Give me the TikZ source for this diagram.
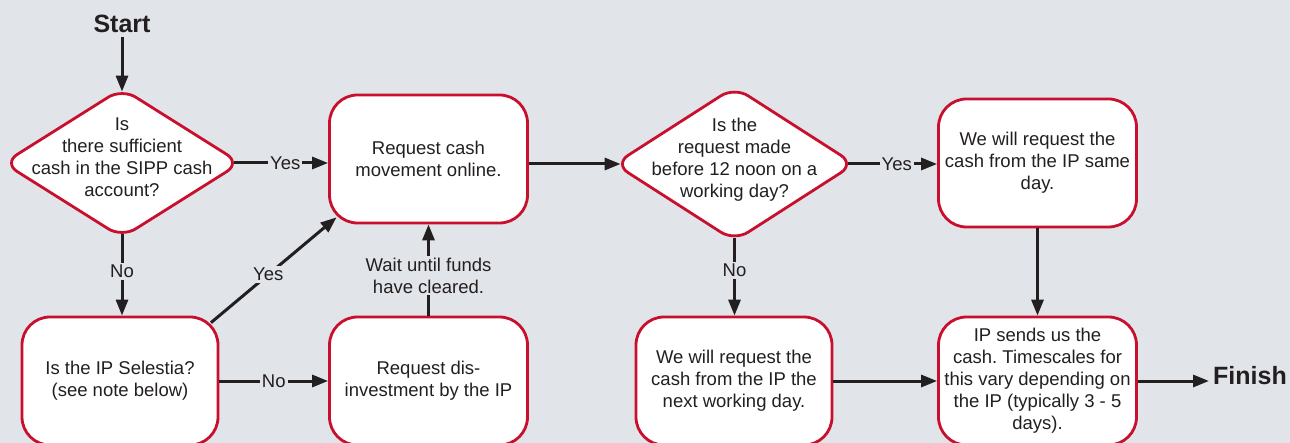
\documentclass[tikz,border=0pt]{standalone}
\usepackage{fontspec}
\setmainfont{Liberation Sans}
\usetikzlibrary{shapes.geometric,arrows.meta}
\definecolor{bg}{RGB}{225,228,232}
\definecolor{boxred}{RGB}{200,16,46}
\definecolor{ink}{RGB}{35,31,32}
\frenchspacing
\newcommand{\qlines}[1]{\makebox[0pt]{\smash{\begin{tabular}{@{}c@{}}#1\end{tabular}}}}
\tikzset{
    box/.style={draw=boxred, line width=2.8pt, fill=white, rounded corners=28pt, minimum width=198pt, minimum height=128pt, inner sep=0pt, align=center},
    decision/.style={diamond, draw=boxred, line width=2.8pt, fill=white, rounded corners=16pt, inner sep=0pt},
    arrow/.style={line width=3pt, draw=ink, -{Triangle[length=16pt,width=12pt]}},
    lbl/.style={fill=bg, inner sep=2pt, align=center},
    bigword/.style={font=\fontsize{25}{30}\selectfont\bfseries, inner sep=4pt}
}

\begin{document}
\begin{tikzpicture}[x=1pt, y=-1pt, color=ink, font=\fontsize{18.5}{22}\selectfont]
    \fill[bg] (0,0) rectangle (1290,443);
    \useasboundingbox (0,0) rectangle (1290,443);
    \node[bigword] (start) at (122,24) {Start};
    \node[decision, minimum width=238pt, minimum height=150pt] (q1) at (122,163) {\qlines{Is\\there sufficient\\cash in the SIPP cash\\account?}};
    \node[box] (move) at (428.5,159) {Request cash\\movement online.};
    \node[decision, minimum width=241pt, minimum height=155pt] (q2) at (734.5,164) {\qlines{Is the\\request made\\before 12 noon on a\\working day?}};
    \node[box] (same) at (1037.5,163) {We will request the\\cash from the IP same\\day.};
    \node[box, minimum width=196pt] (ask) at (120,381) {Is the IP Selestia?\\(see note below)};
    \node[box] (dis) at (428.5,381) {Request dis-\\investment by the IP};
    \node[box, minimum width=196pt] (next) at (734,381) {We will request the\\cash from the IP the\\next working day.};
    \node[box] (ips) at (1037.5,381) {IP sends us the\\cash. Timescales for\\this vary depending on\\the IP (typically 3 - 5\\days).};
    \node[bigword] (finish) at (1250,376) {Finish};
    \draw[arrow, shorten >=-5pt] (start) -- (q1.north);
    \draw[arrow, shorten <=-8pt] (q1.east) -- node[lbl] {Yes} (q1.east -| move.west);
    \draw[arrow, shorten >=-8pt] (move.east |- q2.west) -- (q2.west);
    \draw[arrow, shorten <=-8pt] (q2.east) -- node[lbl] {Yes} (q2.east -| same.west);
    \draw[arrow] (same.south) -- (ips.north);
    \draw[arrow, shorten <=-5pt] (q1.south) -- node[lbl, pos=0.42] {No} (q1.south |- ask.north);
    \draw[arrow, shorten <=-5pt] (q2.south) -- node[lbl, pos=0.38] {No} (q2.south |- next.north);
    \draw[arrow] (ask.east) -- node[lbl] {No} (dis.west);
    \draw[arrow, shorten <=-11pt, shorten >=-11pt] (ask.north east) -- node[lbl, pos=0.45] {Yes} (move.south west);
    \draw[arrow] (dis.north) -- node[lbl, pos=0.44] {Wait until funds\\have cleared.} (move.south);
    \draw[arrow] (next.east) -- (ips.west);
    \draw[arrow] (ips.east) -- (ips.east -| finish.west);
\end{tikzpicture}
\end{document}
